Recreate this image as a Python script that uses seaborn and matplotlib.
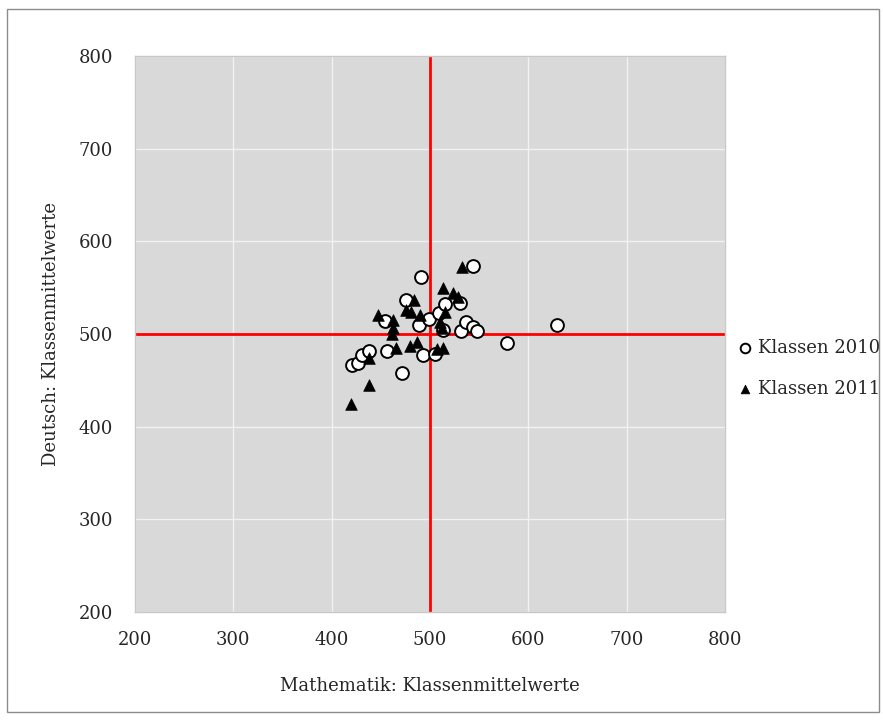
import matplotlib
matplotlib.use("Agg")
import matplotlib.pyplot as plt
import seaborn as sns
import pandas as pd
from matplotlib.patches import Rectangle

# Klassenmittelwerte (Mathematik, Deutsch)
math_2010 = [421, 427, 431, 438, 456, 472, 493, 505, 454, 476, 491, 489,
             499, 509, 515, 513, 531, 532, 537, 544, 548, 544, 578, 629]
deutsch_2010 = [467, 469, 477, 482, 482, 458, 477, 478, 514, 537, 561, 510,
                516, 523, 532, 504, 534, 503, 513, 508, 503, 573, 490, 510]

math_2011 = [420, 438, 438, 447, 462, 462, 461, 465, 480, 487, 476, 481,
             484, 490, 510, 512, 515, 507, 513, 513, 523, 528, 533]
deutsch_2011 = [425, 445, 474, 521, 515, 507, 500, 485, 487, 491, 526, 524,
                537, 520, 513, 507, 524, 484, 485, 550, 544, 540, 572]

series_labels = ["Klassen 2010", "Klassen 2011"]
axis_ticks = [200, 300, 400, 500, 600, 700, 800]
reference_value = 500

df = pd.concat([
    pd.DataFrame({"Mathematik": math_2010, "Deutsch": deutsch_2010, "Gruppe": series_labels[0]}),
    pd.DataFrame({"Mathematik": math_2011, "Deutsch": deutsch_2011, "Gruppe": series_labels[1]}),
], ignore_index=True)

sns.set_theme(style="whitegrid")
plt.rcParams["font.family"] = ["DejaVu Serif", "Liberation Serif"]
FS = 13.0

fig = plt.figure(figsize=(8.83, 7.2), dpi=100)
ax = fig.add_axes([0.1529, 0.15, 0.6681, 0.7722])
ax.set_facecolor("#d9d9d9")

ax.set_xlim(axis_ticks[0], axis_ticks[-1])
ax.set_ylim(axis_ticks[0], axis_ticks[-1])
ax.set_xticks(axis_ticks)
ax.set_yticks(axis_ticks)
ax.grid(True, color="#f2f2f2", linewidth=1.0)
ax.set_axisbelow(True)
for sp in ax.spines.values():
    sp.set_color("#c8c8c8")
    sp.set_linewidth(1.0)

ax.axvline(reference_value, color="#ff0000", linewidth=2.0, zorder=1.5)
ax.axhline(reference_value, color="#ff0000", linewidth=2.0, zorder=1.5)

sns.scatterplot(data=df[df["Gruppe"] == series_labels[0]], x="Mathematik", y="Deutsch",
                ax=ax, marker="o", s=85, facecolor="white", edgecolor="black",
                linewidth=1.4, label=series_labels[0], zorder=3)
sns.scatterplot(data=df[df["Gruppe"] == series_labels[1]], x="Mathematik", y="Deutsch",
                ax=ax, marker="^", s=70, color="black", edgecolor="black",
                linewidth=0.5, label=series_labels[1], zorder=4)

ax.tick_params(axis="x", length=0, labelsize=FS, pad=14)
ax.tick_params(axis="y", length=0, labelsize=FS, pad=16)
ax.set_xlabel("Mathematik: Klassenmittelwerte", fontsize=FS, labelpad=20)
ax.set_ylabel("Deutsch: Klassenmittelwerte", fontsize=FS, labelpad=13)

leg = ax.legend(loc="center left", bbox_to_anchor=(731 / 883, 1 - 368.5 / 720),
                bbox_transform=fig.transFigure, frameon=False,
                fontsize=FS, handlelength=0.8, handletextpad=0.3,
                labelspacing=1.25, markerscale=0.75, borderaxespad=0)

fig.patches.append(Rectangle((0.008, 0.011), 0.987, 0.976, transform=fig.transFigure,
                             fill=False, edgecolor="#8c8c8c", linewidth=1.0))

fig.savefig("out.png", dpi=100)
